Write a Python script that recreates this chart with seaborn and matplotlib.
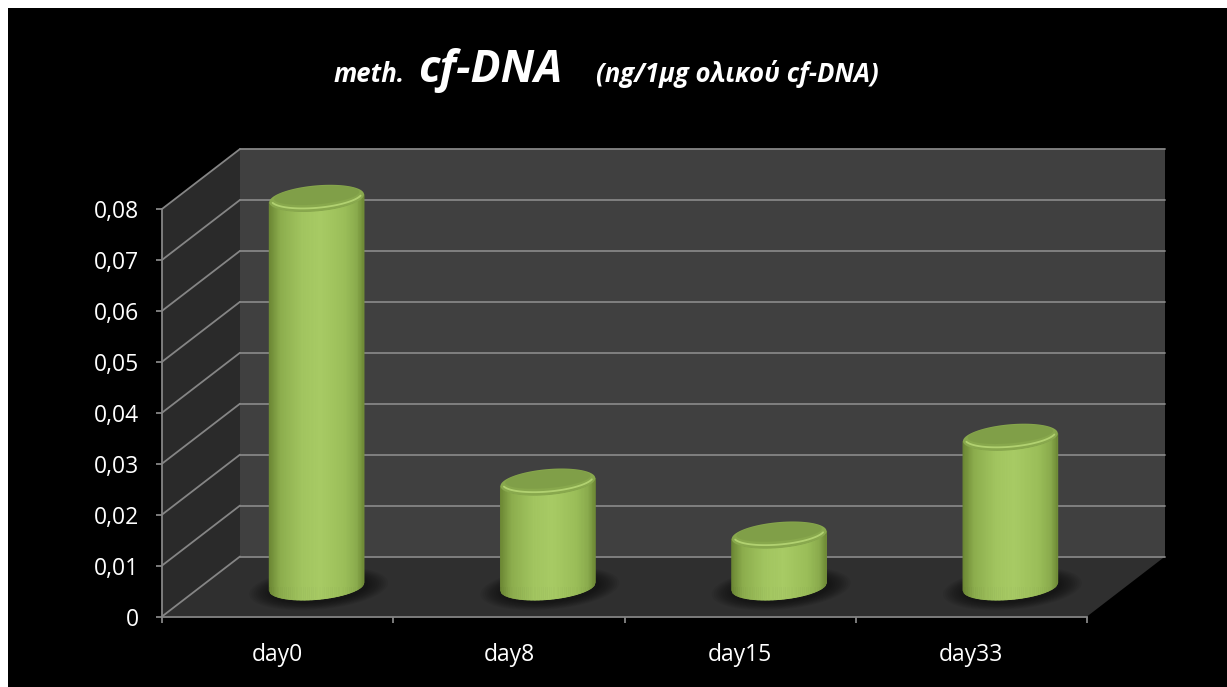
import numpy as np
import pandas as pd
import matplotlib
matplotlib.use("Agg")
import matplotlib.pyplot as plt
import seaborn as sns
from matplotlib.patches import Polygon, Rectangle, PathPatch
from matplotlib.collections import PolyCollection
from matplotlib.path import Path
from matplotlib.transforms import IdentityTransform, ScaledTranslation
from matplotlib.colors import LinearSegmentedColormap

# ---- data -------------------------------------------------------------
days = ["day0", "day8", "day15", "day33"]
meth_cfdna = [0.0762, 0.0205, 0.0101, 0.0293]
y_ticks = [0, 0.01, 0.02, 0.03, 0.04, 0.05, 0.06, 0.07, 0.08]
y_tick_labels = ["0", "0,01", "0,02", "0,03", "0,04", "0,05", "0,06", "0,07", "0,08"]

# ---- style ------------------------------------------------------------
sns.set_style("dark")
plt.rcParams["font.family"] = ["Open Sans", "DejaVu Sans"]

W, H = 1227, 687
fig = plt.figure(figsize=(W / 100, H / 100), dpi=100, facecolor="black")

# white frame strips on the top and left edges
fig.patches.append(Rectangle((0, 1 - 8 / H), 1, 8 / H, transform=fig.transFigure,
                             facecolor="white", edgecolor="none", zorder=10))
fig.patches.append(Rectangle((0, 0), 8 / W, 1, transform=fig.transFigure,
                             facecolor="white", edgecolor="none", zorder=10))

ax = fig.add_axes([162 / W, 70.5 / H, 925 / W, 407.5 / H])
ax.set_facecolor("none")

df = pd.DataFrame({"day": days, "value": meth_cfdna})
sns.barplot(data=df, x="day", y="value", ax=ax, width=0.41, color="#9cbf5a",
            saturation=1, edgecolor="none", zorder=3)
ax.set_xlim(-0.5, 3.5)
ax.set_ylim(0, 0.08)
ax.set_xlabel("")
ax.set_ylabel("")

# 3-D depth offset of the back wall in pixels
DX, DY = 78.0, 60.0


def proj(x, y, d):
    X, Y = ax.transData.transform((x, y))
    return (X + d * DX, Y + d * DY)


ident = IdentityTransform()
GRID = "#858585"

# walls and floor
walls = [
    ([proj(-0.5, 0, 1), proj(3.5, 0, 1), proj(3.5, 0.08, 1), proj(-0.5, 0.08, 1)], "#404040"),
    ([proj(-0.5, 0, 0), proj(-0.5, 0, 1), proj(-0.5, 0.08, 1), proj(-0.5, 0.08, 0)], "#2a2a2a"),
    ([proj(-0.5, 0, 0), proj(3.5, 0, 0), proj(3.5, 0, 1), proj(-0.5, 0, 1)], "#2f2f2f"),
]
for verts, col in walls:
    poly = Polygon(verts, closed=True, facecolor=col, edgecolor="none",
                   transform=ident, zorder=0.2, clip_on=False)
    ax.add_patch(poly)

# gridlines on back wall and side wall
for t in y_ticks:
    for a, b in [(proj(-0.5, t, 1), proj(3.5, t, 1)), (proj(-0.5, t, 0), proj(-0.5, t, 1))]:
        ln = plt.Line2D([a[0], b[0]], [a[1], b[1]], color=GRID, lw=1.3,
                        transform=ident, zorder=0.5, clip_on=False)
        ax.add_line(ln)

# ---- cylinders built on the seaborn bars ------------------------------
body_cmap = LinearSegmentedColormap.from_list(
    "body", [(0.0, "#6a8633"), (0.12, "#8cad4d"), (0.35, "#a2c560"),
             (0.55, "#a8cb65"), (0.8, "#9bbe59"), (0.93, "#8aab4d"), (1.0, "#6e8a36")])

mid = ScaledTranslation(DX * 0.5 / 100, DY * 0.5 / 100, fig.dpi_scale_trans)
B = 13.0          # semi-minor axis of the ellipses (px)
SHEAR = 8.0 / 97  # perspective tilt of the ellipses

for patch in list(ax.patches):
    if not isinstance(patch, Rectangle) or patch.get_width() > 1:
        continue
    x0, w, h = patch.get_x(), patch.get_width(), patch.get_height()
    patch.set_transform(ax.transData + mid)

    (Xl, Y0) = proj(x0, 0, 0.5)
    (Xr, Y1) = proj(x0 + w, h, 0.5)
    cx = 0.5 * (Xl + Xr)
    a = 0.5 * (Xr - Xl)

    def ell(th, Yc, aa=a, bb=B):
        return (cx + aa * np.cos(th), Yc + bb * np.sin(th) + SHEAR * aa * np.cos(th))

    # soft shadow on the floor
    for k in range(10):
        f = k / 9.0
        sa = a + 22 - 20 * f
        sb = B + 8 - 7 * f
        th = np.linspace(0, 2 * np.pi, 100)
        xs = cx + 2 + sa * np.cos(th)
        ys = Y0 - 2 + sb * np.sin(th) + SHEAR * sa * np.cos(th)
        ax.add_patch(Polygon(np.c_[xs, ys], closed=True, facecolor="black",
                             edgecolor="none", alpha=0.06, transform=ident,
                             zorder=1.0, clip_on=False))

    # body outline (front halves of both ellipses)
    thb = np.linspace(-np.pi, 0, 80)
    tht = np.linspace(0, -np.pi, 80)
    bx, by = ell(thb, Y0)
    tx, ty = ell(tht, Y1)
    outline = np.r_[np.c_[bx, by], np.c_[tx, ty]]
    clip = PathPatch(Path(np.r_[outline, outline[:1]], closed=True), transform=ident,
                     facecolor="none", edgecolor="none")
    patch.set_clip_box(None)
    patch.set_clip_path(clip)

    # vertical shading strips of the body
    n = 70
    xs = np.linspace(cx - a, cx + a, n + 1)
    u = np.clip((xs - cx) / a, -1, 1)
    low = -B * np.sqrt(1 - u ** 2) + SHEAR * (xs - cx)
    quads, cols = [], []
    for i in range(n):
        quads.append([(xs[i], Y0 + low[i]), (xs[i + 1], Y0 + low[i + 1]),
                      (xs[i + 1], Y1 + low[i + 1]), (xs[i], Y1 + low[i])])
        cols.append(body_cmap((i + 0.5) / n))
    pc = PolyCollection(quads, facecolors=cols, edgecolors=cols, linewidths=0.6,
                        transform=ident, zorder=3.2)
    ax.add_collection(pc, autolim=False)
    pc.set_clip_on(False)

    # top face
    th = np.linspace(0, 2 * np.pi, 120)
    ex, ey = ell(th, Y1)
    ax.add_patch(Polygon(np.c_[ex, ey], closed=True, facecolor="#88a84d",
                         edgecolor="none", transform=ident, zorder=3.4, clip_on=False))
    ex2, ey2 = ell(th, Y1 + 3, a * 0.9, B * 0.7)
    ax.add_patch(Polygon(np.c_[ex2, ey2], closed=True, facecolor="#7b9944",
                         edgecolor="none", alpha=0.55, transform=ident, zorder=3.5,
                         clip_on=False))
    thr = np.linspace(-0.08 * np.pi, -0.92 * np.pi, 60)
    rx, ry = ell(thr, Y1 + 2.0, a - 2, B - 1.5)
    ax.add_line(plt.Line2D(rx, ry, color="#b6d675", lw=1.3, alpha=0.9,
                           transform=ident, zorder=3.6, clip_on=False))

# ---- axes decoration --------------------------------------------------
for side in ["top", "right"]:
    ax.spines[side].set_visible(False)
for side in ["left", "bottom"]:
    ax.spines[side].set_visible(True)
    ax.spines[side].set_color(GRID)
    ax.spines[side].set_linewidth(1.3)
    ax.spines[side].set_zorder(4)

ax.set_yticks(y_ticks, labels=y_tick_labels)
ax.set_xticks([-0.5, 0.5, 1.5, 2.5, 3.5], labels=[""] * 5)
ax.set_xticks([0, 1, 2, 3], labels=days, minor=True)
ax.tick_params(axis="y", which="major", left=True, length=4.3, width=1.3, color=GRID,
               labelcolor="white", labelsize=16.5, pad=12)
ax.tick_params(axis="x", which="major", bottom=True, length=4.3, width=1.3, color=GRID,
               direction="out")
ax.tick_params(axis="x", which="minor", bottom=True, length=0, labelcolor="white",
               labelsize=16.5, pad=19)
ax.grid(False)

# ---- title ------------------------------------------------------------
tkw = dict(color="white", weight="bold", style="italic", va="baseline", ha="left",
           family=["Open Sans", "DejaVu Sans"])
base_y = 1 - 82 / H
fig.text(334 / W, base_y, "meth.", fontsize=18.5, **tkw)
fig.text(418 / W, base_y, "cf-DNA", fontsize=32, **tkw)
fig.text(596 / W, base_y, "(ng/1μg ολικού cf-DNA)", fontsize=18.5, **tkw)

fig.savefig("out.png", dpi=100, facecolor="black")
